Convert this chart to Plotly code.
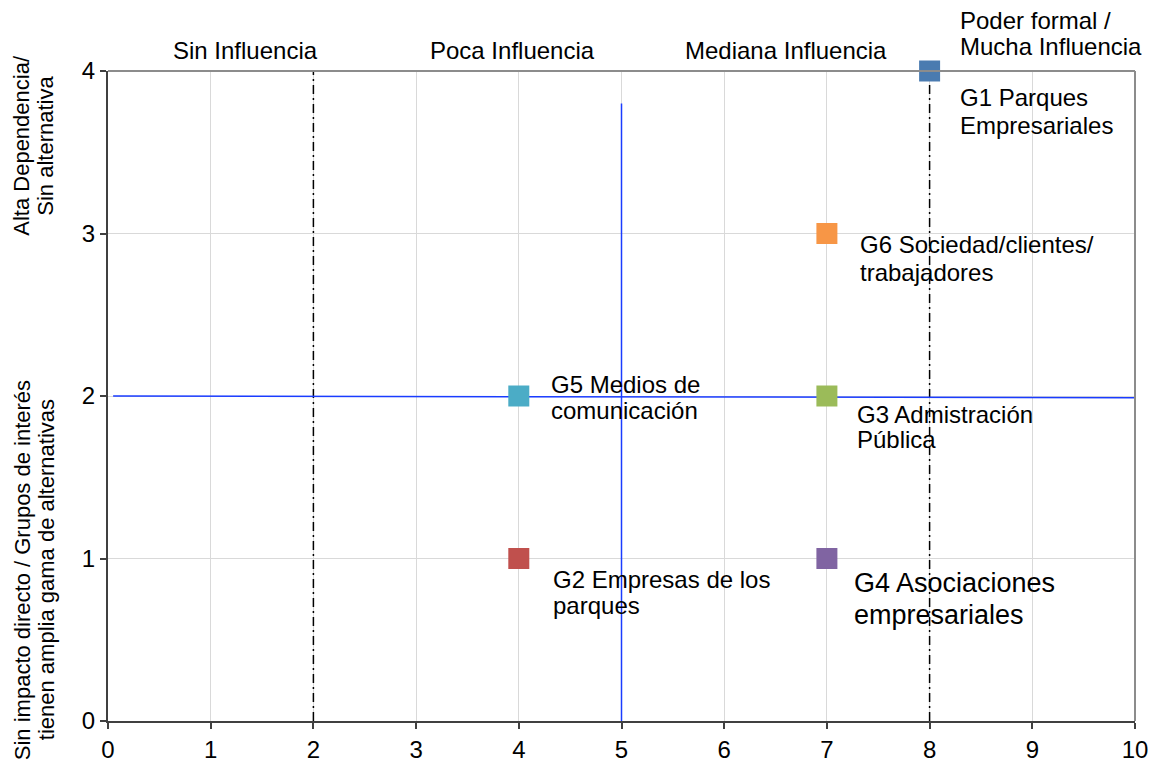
import plotly.graph_objects as go

# Data
groups = ["G1", "G2", "G3", "G4", "G5", "G6"]
influence = [8, 4, 7, 7, 4, 7]
dependence = [4, 1, 2, 1, 2, 3]
label_line1 = ["G1 Parques", "G2 Empresas de los", "G3 Admistración",
               "G4 Asociaciones", "G5 Medios de", "G6 Sociedad/clientes/"]
label_line2 = ["Empresariales", "parques", "Pública",
               "empresariales", "comunicación", "trabajadores"]
colors = ["#4a7bb0", "#c0504d", "#9bbb59", "#8064a2", "#4bacc6", "#f79646"]
label_dx = [28, 32, 28, 25, 30, 31]
label_dy1 = [-26, -21, -18, -24, 12, -11]
label_dy2 = [-54, -47, -43, -56, -14, -39]
label_size = [24, 24, 24, 27, 24, 24]

zone_names = ["Sin Influencia", "Poca Influencia", "Mediana Influencia"]
zone_x = [1.34, 3.94, 6.6]
top_zone_lines = ["Poder formal /", "Mucha Influencia"]
thresholds_x = [2, 8]
blue_h_x = [0.05, 10]
blue_h_y = [2.0, 1.99]
blue_v_x = [5, 5]
blue_v_y = [0, 3.8]

FONT = "Liberation Sans, Arial, sans-serif"

fig = go.Figure()

for tx in thresholds_x:
    fig.add_trace(go.Scatter(x=[tx, tx], y=[0, 4], mode="lines",
                             line=dict(color="black", width=1.5, dash="9px,4px,2px,4px"),
                             hoverinfo="skip", showlegend=False))

fig.add_trace(go.Scatter(x=blue_h_x, y=blue_h_y, mode="lines",
                         line=dict(color="#1a3cff", width=1.5), showlegend=False))
fig.add_trace(go.Scatter(x=blue_v_x, y=blue_v_y, mode="lines",
                         line=dict(color="#1a3cff", width=1.5), showlegend=False))

for g, x, y, c in zip(groups, influence, dependence, colors):
    fig.add_trace(go.Scatter(x=[x], y=[y], mode="markers", name=g,
                             marker=dict(symbol="square", size=21, color=c),
                             cliponaxis=False, showlegend=False))

annotations = []
for x, y, l1, l2, dx, d1, d2, fs in zip(influence, dependence, label_line1, label_line2,
                                         label_dx, label_dy1, label_dy2, label_size):
    for txt, dy in ((l1, d1), (l2, d2)):
        annotations.append(dict(x=x, y=y, xref="x", yref="y", text=txt, showarrow=False,
                                xanchor="left", yanchor="middle", align="left",
                                xshift=dx, yshift=dy,
                                font=dict(family=FONT, size=fs, color="black")))

for name, zx in zip(zone_names, zone_x):
    annotations.append(dict(x=zx, y=1, xref="x", yref="paper", text=name, showarrow=False,
                            xanchor="center", yanchor="middle", yshift=21,
                            font=dict(family=FONT, size=24, color="black")))
for txt, dy in zip(top_zone_lines, [51, 25]):
    annotations.append(dict(x=thresholds_x[1], y=1, xref="x", yref="paper", text=txt,
                            showarrow=False, xanchor="left", yanchor="middle",
                            xshift=28, yshift=dy,
                            font=dict(family=FONT, size=24, color="black")))

ytitle_blocks = [
    (0.232, ["Sin impacto directo / Grupos de interés", "tienen amplia gama de alternativas"]),
    (0.885, ["Alta Dependencia/", "Sin alternativa"]),
]
for yp, lines in ytitle_blocks:
    for txt, xs in zip(lines, [-86, -62]):
        annotations.append(dict(x=0, y=yp, xref="paper", yref="paper", xshift=xs,
                                text=txt, textangle=-90, showarrow=False,
                                xanchor="center", yanchor="middle",
                                font=dict(family=FONT, size=22, color="black")))

axis_common = dict(showgrid=True, gridcolor="#d9d9d9", gridwidth=1,
                   showline=True, linecolor="#404040", linewidth=2,
                   ticks="outside", ticklen=6, tickcolor="#404040", tickwidth=1.5,
                   tickfont=dict(family=FONT, size=24, color="black"), zeroline=False)

fig.update_layout(
    width=1151, height=775,
    margin=dict(l=100, r=24, t=63, b=62),
    plot_bgcolor="white", paper_bgcolor="white",
    annotations=annotations,
    shapes=[
        dict(type="line", xref="paper", yref="paper", x0=0, x1=1, y0=1, y1=1,
             line=dict(color="#8c8c8c", width=2)),
        dict(type="line", xref="paper", yref="paper", x0=1, x1=1, y0=0, y1=1,
             line=dict(color="#8c8c8c", width=2)),
    ],
    xaxis=dict(range=[0, 10], tickmode="linear", tick0=0, dtick=1, **axis_common),
    yaxis=dict(range=[0, 4], tickmode="linear", tick0=0, dtick=1, **axis_common),
)

fig.write_html("out.html")
